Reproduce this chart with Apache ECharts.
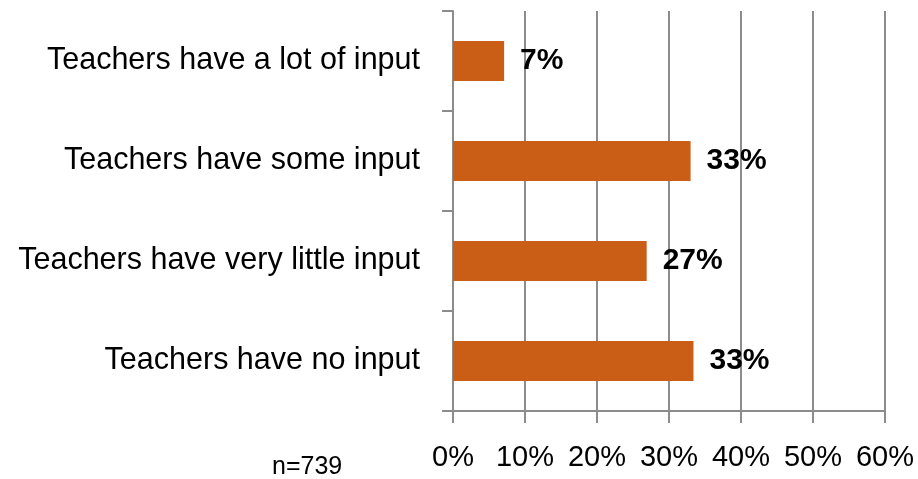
<!DOCTYPE html>
<html>
<head>
<meta charset="utf-8">
<script src="https://cdn.jsdelivr.net/npm/echarts@6/dist/echarts.min.js"></script>
<style>
html,body{margin:0;padding:0;background:#fff;}
#chart{width:918px;height:479px;}
</style>
</head>
<body>
<div id="chart"></div>
<script>
var categories = ["Teachers have a lot of input", "Teachers have some input", "Teachers have very little input", "Teachers have no input"];
var values = [7.1, 33.0, 26.9, 33.4];
var tickLabels = ["0%", "10%", "20%", "30%", "40%", "50%", "60%"];
var note = "n=739";

var FONT = "'Liberation Sans', Arial, Helvetica, sans-serif";
var chart = echarts.init(document.getElementById('chart'));
chart.setOption({
  animation: false,
  backgroundColor: '#ffffff',
  grid: {left: 453, right: 33, top: 11, bottom: 68, containLabel: false, outerBoundsMode: 'none'},
  title: {
    text: note, left: 272, top: 455, padding: 0,
    textStyle: {fontFamily: FONT, fontSize: 25, fontWeight: 'normal', color: '#000'}
  },
  xAxis: {
    type: 'value', min: 0, max: 60, interval: 10,
    axisLine: {show: true, lineStyle: {color: '#8c8c8c', width: 2}},
    axisTick: {show: true, length: 12, lineStyle: {color: '#8c8c8c', width: 2}},
    splitLine: {show: true, lineStyle: {color: '#8c8c8c', width: 2}},
    axisLabel: {
      margin: 32, color: '#000', fontFamily: FONT, fontSize: 29,
      showMinLabel: true, showMaxLabel: true, hideOverlap: false,
      formatter: function (v) { return tickLabels[Math.round(v / 10)]; }
    }
  },
  yAxis: {
    type: 'category', inverse: true, data: categories,
    axisLine: {show: true, lineStyle: {color: '#8c8c8c', width: 2}},
    axisTick: {show: true, length: 11, lineStyle: {color: '#8c8c8c', width: 2}},
    axisLabel: {margin: 33, color: '#000', fontFamily: FONT, fontSize: 30.5}
  },
  series: [{
    type: 'bar', data: values, barCategoryGap: '60%',
    itemStyle: {color: '#CB5E16'},
    label: {
      show: true, position: 'right', distance: 16, color: '#000',
      fontFamily: FONT, fontSize: 30, fontWeight: 'bold',
      formatter: function (p) { return Math.round(p.value) + '%'; }
    }
  }]
});
</script>
</body>
</html>
